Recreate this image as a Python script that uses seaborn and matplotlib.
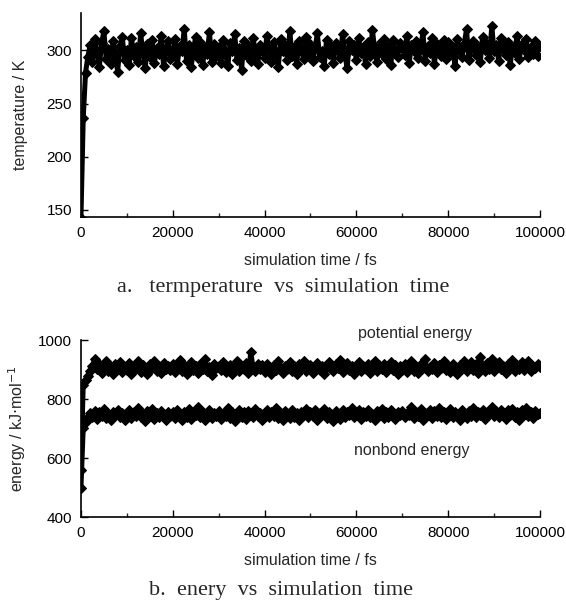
import numpy as np
import pandas as pd
import matplotlib
matplotlib.use("Agg")
import matplotlib.pyplot as plt
from matplotlib.ticker import MultipleLocator
import seaborn as sns

# ---- data ----
step_fs = 500
temperature = [
    142, 236, 279, 294, 305, 289, 311, 298, 284, 307, 318, 292, 301, 287, 309, 296, 280, 304, 313, 291,
    300, 286, 312, 295, 303, 289, 316, 298, 283, 306, 294, 310, 288, 302, 297, 314, 285, 301, 309, 292,
    296, 311, 287, 304, 299, 320, 290, 305, 284, 300, 313, 293, 308, 286, 302, 297, 317, 289, 306, 295,
    303, 288, 310, 297, 285, 307, 299, 315, 291, 302, 282, 309, 296, 304, 290, 312, 298, 287, 305, 300,
    293, 314, 301, 289, 308, 296, 284, 311, 299, 305, 291, 318, 295, 303, 287, 309, 300, 292, 313, 297,
    306, 290, 302, 316, 294, 299, 285, 310, 297, 304, 288, 307, 301, 293, 315, 296, 283, 309, 300, 305,
    291, 312, 298, 303, 287, 308, 295, 319, 301, 289, 306, 297, 311, 292, 304, 286, 310, 299, 294, 307,
    302, 296, 314, 288, 305, 299, 309, 293, 301, 317, 290, 304, 298, 312, 287, 306, 300, 295, 310, 292,
    308, 297, 303, 285, 311, 299, 294, 306, 320, 291, 302, 309, 296, 304, 289, 313, 300, 306, 293, 323,
    299, 305, 290, 312, 301, 296, 308, 286, 303, 298, 314, 292, 306, 300, 311, 294, 303, 297, 309, 295,
    304,
]
potential_energy = [
    560, 848, 866, 880, 897, 912, 935, 902, 921, 889, 914, 930, 896, 908, 885, 918, 903, 925, 892, 910,
    899, 922, 887, 913, 905, 928, 893, 916, 901, 884, 919, 907, 931, 895, 911, 890, 924, 903, 914, 898,
    920, 892, 909, 934, 897, 915, 886, 906, 927, 900, 913, 889, 918, 904, 936, 896, 910, 883, 921, 905,
    912, 898, 926, 891, 908, 917, 887, 903, 929, 895, 914, 901, 923, 888, 960, 906, 894, 919, 902, 915,
    893, 921, 905, 884, 916, 899, 928, 907, 890, 913, 902, 925, 896, 911, 886, 918, 904, 930, 897, 909,
    917, 889, 906, 922, 898, 914, 885, 910, 927, 901, 894, 919, 905, 933, 891, 908, 923, 899, 913, 887,
    904, 926, 895, 912, 901, 918, 888, 907, 930, 896, 915, 903, 921, 892, 909, 925, 898, 916, 886, 911,
    900, 919, 893, 908, 928, 897, 913, 889, 920, 905, 935, 894, 910, 902, 924, 891, 917, 906, 929, 898,
    914, 892, 921, 907, 885, 916, 903, 931, 896, 911, 926, 899, 918, 890, 944, 908, 895, 922, 904, 936,
    897, 915, 926, 901, 913, 888, 920, 906, 932, 894, 917, 903, 925, 899, 911, 928, 896, 914, 905, 921,
    910,
]
nonbond_energy = [
    500, 702, 724, 738, 752, 741, 760, 733, 755, 744, 768, 736, 750, 729, 758, 745, 762, 739, 753, 731,
    747, 764, 735, 756, 742, 770, 738, 751, 726, 759, 744, 766, 733, 754, 740, 761, 748, 730, 757, 743,
    755, 737, 762, 746, 728, 758, 741, 767, 734, 753, 745, 775, 739, 756, 731, 749, 763, 737, 752, 744,
    760, 733, 751, 742, 769, 736, 757, 725, 748, 764, 740, 755, 732, 761, 746, 738, 766, 743, 754, 729,
    750, 763, 739, 757, 744, 771, 735, 752, 728, 760, 747, 736, 765, 741, 754, 731, 758, 745, 768, 738,
    756, 742, 762, 730, 753, 746, 767, 737, 758, 743, 727, 761, 749, 734, 764, 740, 755, 745, 770, 739,
    748, 765, 733, 757, 744, 762, 738, 751, 729, 759, 746, 768, 736, 755, 741, 763, 750, 732, 758, 745,
    761, 739, 754, 747, 772, 735, 757, 742, 766, 731, 753, 748, 764, 737, 759, 744, 769, 740, 756, 733,
    752, 767, 741, 758, 745, 730, 763, 749, 736, 760, 743, 771, 738, 755, 747, 765, 734, 757, 750, 775,
    744, 759, 738, 764, 751, 733, 762, 746, 768, 740, 756, 731, 763, 748, 770, 742, 757, 737, 761, 749,
    752,
]
x_ticks = [0, 20000, 40000, 60000, 80000, 100000]
temp_ticks = [150, 200, 250, 300]
energy_ticks = [400, 600, 800, 1000]

time_fs = np.arange(len(temperature)) * step_fs
df_t = pd.DataFrame({"time": time_fs, "temperature": temperature})
df_e = pd.DataFrame({"time": time_fs, "potential": potential_energy, "nonbond": nonbond_energy})

# ---- style ----
sns.set_style("ticks")
plt.rcParams["font.family"] = ["Liberation Sans", "DejaVu Sans"]
plt.rcParams["xtick.direction"] = "in"
plt.rcParams["ytick.direction"] = "in"

fig = plt.figure(figsize=(5.66, 6.0), dpi=100)
ax1 = fig.add_axes([0.143, 0.638, 0.811, 0.340])
ax2 = fig.add_axes([0.143, 0.138, 0.811, 0.295])

line_kw = dict(color="black", linewidth=3.6, marker="D", markersize=5.5,
               markeredgecolor="black", markerfacecolor="black", sort=False)

sns.lineplot(data=df_t, x="time", y="temperature", ax=ax1, **line_kw)
sns.lineplot(data=df_e, x="time", y="potential", ax=ax2, **line_kw)
sns.lineplot(data=df_e, x="time", y="nonbond", ax=ax2, **line_kw)

tick_fs = 11
lab_fs = 11.5
for ax in (ax1, ax2):
    sns.despine(ax=ax)
    ax.set_xlim(0, 100000)
    ax.set_xticks(x_ticks)
    ax.xaxis.set_minor_locator(MultipleLocator(10000))
    ax.tick_params(axis="both", which="major", length=5, width=1, labelsize=tick_fs,
                   pad=6.5, colors="black")
    ax.tick_params(axis="both", which="minor", length=3, width=1)
    for s in ("left", "bottom"):
        ax.spines[s].set_linewidth(1.2)
        ax.spines[s].set_color("black")
    ax.set_xlabel("simulation time / fs", fontsize=lab_fs, labelpad=9)

ax1.set_ylim(143, 335)
ax1.set_yticks(temp_ticks)
ax1.set_ylabel("temperature / K", fontsize=lab_fs, labelpad=13)

ax2.set_ylim(400, 1000)
ax2.set_yticks(energy_ticks)
ax2.set_ylabel("energy / kJ$\\cdot$mol$^{-1}$", fontsize=lab_fs, labelpad=7)

ax2.text(72700, 1024, "potential energy", ha="center", va="center", fontsize=lab_fs, clip_on=False)
ax2.text(72100, 627, "nonbond energy", ha="center", va="center", fontsize=lab_fs)

cap_kw = dict(ha="center", va="baseline", fontsize=16,
              family=["Liberation Serif", "DejaVu Serif"])
fig.text(283 / 566, 1 - 292 / 600, "a.   termperature  vs  simulation  time", **cap_kw)
fig.text(281 / 566, 1 - 595 / 600, "b.  enery  vs  simulation  time", **cap_kw)

fig.savefig("out.png", dpi=100)
